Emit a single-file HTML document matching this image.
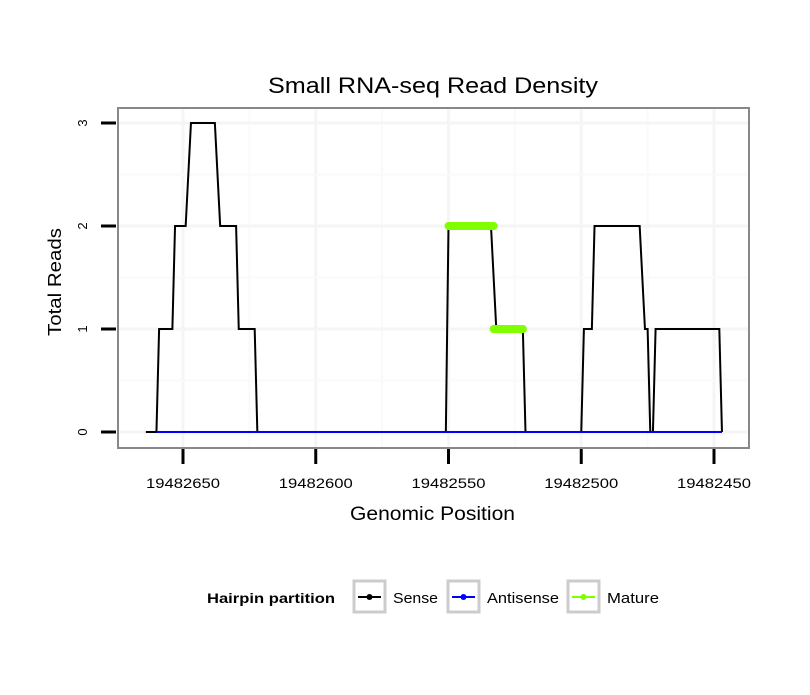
<!DOCTYPE html>
<html><head><meta charset="utf-8"><style>
body{margin:0;background:#fff;}
svg text{font-family:"Liberation Sans",sans-serif;}
</style></head><body>
<svg id="chart" width="810" height="690" xmlns="http://www.w3.org/2000/svg">
<rect width="810" height="690" fill="#fff"/>
<text x="268" y="93" font-size="22" textLength="330" lengthAdjust="spacingAndGlyphs">Small RNA-seq Read Density</text>
<g id="grid"></g>
<g id="series"></g>
<rect x="118" y="108" width="631" height="340" fill="none" stroke="#888" stroke-width="2"/>
<g id="axes"></g>
<text x="350" y="520" font-size="19" textLength="165" lengthAdjust="spacingAndGlyphs">Genomic Position</text>
<text transform="translate(61,336) rotate(-90)" font-size="18" textLength="108" lengthAdjust="spacingAndGlyphs">Total Reads</text>
<g>
<text x="207" y="603" font-size="14" font-weight="bold" textLength="128" lengthAdjust="spacingAndGlyphs">Hairpin partition</text>
<g>
<rect x="354" y="581" width="31" height="31" fill="#fff" stroke="#ccc" stroke-width="3"/>
<line x1="358" y1="597" x2="381" y2="597" stroke="#000" stroke-width="2"/><circle cx="369.5" cy="597" r="3" fill="#000"/>
<text x="393" y="603" font-size="15" textLength="45" lengthAdjust="spacingAndGlyphs">Sense</text></g>
<g>
<rect x="448" y="581" width="31" height="31" fill="#fff" stroke="#ccc" stroke-width="3"/>
<line x1="452" y1="597" x2="475" y2="597" stroke="#00f" stroke-width="2"/><circle cx="463.5" cy="597" r="3" fill="#00f"/>
<text x="487" y="603" font-size="15" textLength="72" lengthAdjust="spacingAndGlyphs">Antisense</text></g>
<g>
<rect x="568" y="581" width="31" height="31" fill="#fff" stroke="#ccc" stroke-width="3"/>
<line x1="572" y1="597" x2="595" y2="597" stroke="#7fff00" stroke-width="2"/><circle cx="583.5" cy="597" r="3" fill="#7fff00"/>
<text x="607" y="603" font-size="15" textLength="52" lengthAdjust="spacingAndGlyphs">Mature</text></g>
</g>
</svg>
<script>
const xTicks=[19482650,19482600,19482550,19482500,19482450];
const yTicks=[0,1,2,3];
const sensePos=[19482664,19482660,19482659,19482654,19482653,19482649,19482647,19482638,19482636,19482630,19482629,19482623,19482622,19482551,19482550,19482534,19482532,19482522,19482521,19482500,19482499,19482496,19482495,19482478,19482476,19482475,19482474,19482473,19482472,19482448,19482447];
const senseVal=[0,0,1,1,2,2,3,3,2,2,1,1,0,0,2,2,1,1,0,0,1,1,2,2,1,1,0,0,1,1,0];
const antisensePos=[19482660,19482447];
const antisenseVal=[0,0];
const maturePos=[19482550,19482533,19482533,19482522];
const matureVal=[2,2,1,1];
const ns="http://www.w3.org/2000/svg";
const X=v=>183+(19482650-v)*132.75/50;
const Y=v=>432-v*103;
function mk(tag,attrs,parent){const e=document.createElementNS(ns,tag);for(const k in attrs)e.setAttribute(k,attrs[k]);parent.appendChild(e);return e;}
const grid=document.getElementById('grid'),axes=document.getElementById('axes'),ser=document.getElementById('series');
for(let i=0;i<xTicks.length;i++){
 let g=mk('line',{x1:X(xTicks[i]),x2:X(xTicks[i]),y1:109,y2:447,stroke:'#f5f5f5','stroke-width':3},grid);
 
 
 if(i<xTicks.length-1){const m=(xTicks[i]+xTicks[i+1])/2;
  let h=mk('line',{x1:X(m),x2:X(m),y1:109,y2:447,stroke:'#fafafa','stroke-width':2},grid);
  
  }
 let t=mk('line',{x1:X(xTicks[i]),x2:X(xTicks[i]),y1:449,y2:464,stroke:'#000','stroke-width':3},axes);
 
 
 let l=mk('text',{x:X(xTicks[i])-37,y:488,'font-size':14,textLength:74,lengthAdjust:'spacingAndGlyphs'},axes);
 l.textContent=xTicks[i];
 
 
}
for(let i=0;i<yTicks.length;i++){
 let g=mk('line',{x1:119,x2:748,y1:Y(yTicks[i]),y2:Y(yTicks[i]),stroke:'#f5f5f5','stroke-width':3},grid);
 
 
 if(i<yTicks.length-1){const m=(yTicks[i]+yTicks[i+1])/2;
  let h=mk('line',{x1:119,x2:748,y1:Y(m),y2:Y(m),stroke:'#fafafa','stroke-width':2},grid);
  
  }
 let t=mk('line',{x1:101,x2:116,y1:Y(yTicks[i]),y2:Y(yTicks[i]),stroke:'#000','stroke-width':3},axes);
 
 
 let l=mk('text',{transform:`translate(87,${Y(yTicks[i])}) rotate(-90)`,'font-size':13,'text-anchor':'middle'},axes);
 l.textContent=yTicks[i];
 
 
}
const pts=(p,v)=>p.map((x,i)=>X(x)+','+Y(v[i])).join(' ');
let s=mk('polyline',{points:pts(sensePos,senseVal),fill:'none',stroke:'#000','stroke-width':2},ser);


let a=mk('polyline',{points:pts(antisensePos,antisenseVal),fill:'none',stroke:'#00f','stroke-width':2},ser);


for(let i=0;i<maturePos.length;i+=2){
 let m=mk('line',{x1:X(maturePos[i]),x2:X(maturePos[i+1]),y1:Y(matureVal[i]),y2:Y(matureVal[i+1]),stroke:'#7fff00','stroke-width':8,'stroke-linecap':'round'},ser);
 
 
}
</script>
</body></html>
